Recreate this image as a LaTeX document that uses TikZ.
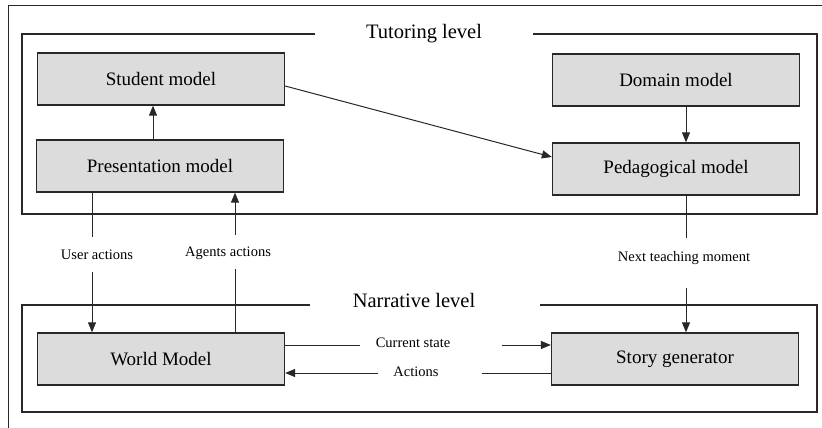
\documentclass[tikz,border=0pt]{standalone}
\usepackage{fontspec}
\setmainfont{Liberation Serif}
\usetikzlibrary{arrows.meta}
\definecolor{boxgray}{RGB}{220,220,220}
\definecolor{framec}{RGB}{40,40,40}
\begin{document}
\begin{tikzpicture}[x=1pt,y=-1pt,
  box/.style={draw=framec, line width=1.3pt, fill=boxgray, inner sep=0pt,
    minimum width=247pt, minimum height=52pt, font=\fontsize{19}{19}\selectfont},
  frame/.style={draw=framec, line width=2.8pt},
  title/.style={font=\fontsize{20.5}{20.5}\selectfont, inner sep=0pt},
  lbl/.style={font=\fontsize{14.5}{14.5}\selectfont, inner sep=0pt},
  conn/.style={line width=1pt, draw=framec},
  arr/.style={conn, -{Triangle[length=10pt,width=8pt]}}]
\useasboundingbox (0,0) rectangle (822,428);
% outer frame
\draw[line width=1pt, draw=framec] (8,428) -- (8,6) -- (822,6);
% tutoring frame
\draw[frame] (315,34) -- (22,34) -- (22,214) -- (817,214) -- (817,34) -- (533,34);
\node[title] (tut) at (424,34) {Tutoring level};
% narrative frame
\draw[frame] (310,305) -- (22,305) -- (22,412) -- (817,412) -- (817,305) -- (540,305);
\node[title] (nar) at (414,300) {Narrative level};
% boxes
\node[box] (student) at (161,79) {Student model};
\node[box] (pres) at (160,166) {Presentation model};
\node[box] (domain) at (676,80) {Domain model};
\node[box] (ped) at (676,169) {Pedagogical model};
\node[box] (world) at (161,359) {World Model};
\node[box] (story) at (675,359) {Story generator};
% tutoring arrows
\draw[arr] (pres.north -| 153,0) -- (student.south -| 153,0);
\draw[arr] (domain.south -| 686,0) -- (ped.north -| 686,0);
\draw[arr] ([yshift=-7pt]student.east) -- ([yshift=12pt]ped.west);
% user actions
\node[lbl] (ua) at (97,255) {User actions};
\coordinate (ua1) at (92,237);
\coordinate (ua2) at (92,272);
\draw[conn] (pres.south -| ua1) -- (ua1);
\draw[arr] (ua2) -- (world.north -| ua2);
% agents actions
\node[lbl] (aa) at (228,253) {Agents actions};
\coordinate (aa1) at (235,235);
\coordinate (aa2) at (235,269);
\draw[conn] (world.north -| aa2) -- (aa2);
\draw[arr] (aa1) -- (pres.south -| aa1);
% next teaching moment
\node[lbl] (ntm) at (684,258) {Next teaching moment};
\coordinate (nt1) at (686,238);
\coordinate (nt2) at (686,288);
\draw[conn] (ped.south -| nt1) -- (nt1);
\draw[arr] (nt2) -- (story.north -| nt2);
% current state
\node[lbl] (cs) at (413,343) {Current state};
\coordinate (cs1) at (360,345);
\coordinate (cs2) at (502,345);
\draw[conn] (world.east |- cs1) -- (cs1);
\draw[arr] (cs2) -- (story.west |- cs2);
% actions
\node[lbl] (ac) at (416,372) {Actions};
\coordinate (ac1) at (378,373);
\coordinate (ac2) at (482,373);
\draw[arr] (ac1) -- (world.east |- ac1);
\draw[conn] (ac2) -- (story.west |- ac2);
\end{tikzpicture}
\end{document}
